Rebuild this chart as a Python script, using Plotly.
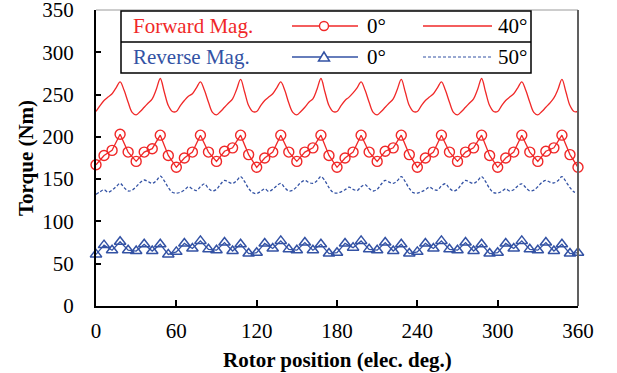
import plotly.graph_objects as go

# ---------------- data ----------------
pos6 = list(range(0, 361, 6))      # rotor position for marker series (deg)
pos3 = list(range(0, 361, 3))      # rotor position for line series (deg)

fwd_0 = [167, 178, 184, 203, 182, 171, 182, 186, 202, 178,
         164, 175, 182, 202, 182, 171, 183, 187, 202, 179,
         164, 175, 182, 202, 182, 171, 182, 187, 202, 178,
         164, 175, 182, 202, 182, 171, 183, 187, 202, 179,
         164, 175, 182, 202, 182, 171, 182, 187, 202, 178,
         164, 175, 182, 202, 182, 171, 183, 187, 202, 179,
         164]

rev_0 = [61, 72, 66, 76, 66, 65, 73, 65, 73, 61,
         64, 74, 68, 77, 67, 66, 75, 65, 73, 62,
         63, 74, 68, 77, 67, 66, 75, 66, 73, 62,
         63, 74, 69, 77, 67, 66, 75, 65, 73, 62,
         64, 74, 68, 77, 67, 66, 75, 65, 73, 62,
         63, 74, 68, 77, 67, 66, 75, 65, 73, 62,
         63]

fwd_40 = [230, 237, 243, 247, 251, 258, 265, 255, 241, 229,
          226, 230, 235, 240, 245, 256, 269, 253, 237, 230,
          230, 237, 243, 248, 251, 258, 265, 255, 241, 229,
          226, 230, 235, 240, 245, 256, 268, 253, 237, 230,
          230, 237, 243, 247, 251, 258, 265, 255, 240, 229,
          226, 230, 235, 241, 245, 256, 269, 253, 237, 230,
          230, 237, 243, 247, 252, 258, 265, 255, 241, 229,
          226, 230, 235, 240, 245, 256, 268, 253, 237, 230,
          230, 237, 243, 247, 251, 258, 265, 255, 241, 229,
          226, 230, 235, 240, 245, 256, 269, 253, 237, 230,
          230, 237, 243, 247, 251, 258, 265, 255, 241, 229,
          226, 230, 235, 240, 246, 256, 268, 253, 237, 230,
          230]

rev_50 = [132, 135, 137.5, 134.5, 137, 141, 145, 140, 136, 137,
          141, 146, 149, 147, 145, 148, 153.5, 148, 140, 134.5,
          133.5, 134.5, 137, 141, 138.5, 136.5, 141, 144.5, 139, 136,
          138, 144, 148.5, 146.5, 145, 148, 153, 147, 139, 134,
          133, 135.5, 138.5, 135.5, 138, 142, 145, 140, 136, 137,
          141, 146, 148.5, 146, 145, 148, 153, 148, 140, 134.5,
          133.5, 135, 137.5, 140.5, 138, 136.5, 141, 143.5, 139, 136,
          138, 144, 148.5, 146.5, 145, 148, 153, 147, 139, 134,
          133.5, 135, 137.5, 140.5, 138, 137, 142, 144.5, 139, 136,
          138, 144, 148.5, 146.5, 145, 148, 153, 147, 139, 134,
          133.5, 135.5, 138.5, 136, 137.5, 142, 144.5, 140, 136, 137,
          141, 146, 148.5, 146.5, 145.5, 148, 153, 147, 140, 135,
          133.5]

x_ticks = [0, 60, 120, 180, 240, 300, 360]
y_ticks = [0, 50, 100, 150, 200, 250, 300, 350]

# ---------------- style ----------------
RED = "#F02828"
BLUE = "#3352A4"
FONT = "Liberation Serif, Times New Roman, Times, serif"
W, H = 617, 373
L, R, T, B = 96, 39, 10, 67
PW, PH = W - L - R, H - T - B


def fx(p):
    return (p - L) / PW


def fy(p):
    return (H - B - p) / PH


fig = go.Figure()
fig.add_trace(go.Scatter(x=pos3, y=fwd_40, mode="lines", line=dict(color=RED, width=1.3, shape="spline"),
                         cliponaxis=False, showlegend=False))
fig.add_trace(go.Scatter(x=pos3, y=rev_50, mode="lines",
                         line=dict(color=BLUE, width=1.3, dash="3px,2px", shape="spline"),
                         cliponaxis=False, showlegend=False))
fig.add_trace(go.Scatter(x=pos6, y=fwd_0, mode="lines+markers", line=dict(color=RED, width=1.3),
                         marker=dict(symbol="circle-open", size=10, color=RED, line=dict(width=1.4, color=RED)),
                         cliponaxis=False, showlegend=False))
fig.add_trace(go.Scatter(x=pos6, y=rev_0, mode="lines+markers", line=dict(color=BLUE, width=1.3),
                         marker=dict(symbol="triangle-up-open", size=10, color=BLUE, line=dict(width=1.5, color=BLUE)),
                         cliponaxis=False, showlegend=False))

shapes = []
# gray frame top & right
shapes.append(dict(type="line", xref="paper", yref="paper", x0=0, x1=1, y0=1, y1=1,
                   line=dict(color="#9a9a9a", width=1)))
shapes.append(dict(type="line", xref="paper", yref="paper", x0=1, x1=1, y0=0, y1=1,
                   line=dict(color="#606060", width=2)))
# legend box
shapes.append(dict(type="rect", xref="paper", yref="paper", x0=fx(121), x1=fx(531), y0=fy(73), y1=fy(11),
                   line=dict(color="black", width=1.5), fillcolor="white", layer="above"))
shapes.append(dict(type="line", xref="paper", yref="paper", x0=fx(121), x1=fx(531), y0=fy(42), y1=fy(42),
                   line=dict(color="black", width=1.5)))
r1, r2 = 26, 57
shapes.append(dict(type="line", xref="paper", yref="paper", x0=fx(292), x1=fx(358), y0=fy(r1), y1=fy(r1),
                   line=dict(color=RED, width=1.3)))
shapes.append(dict(type="circle", xref="paper", yref="paper", x0=fx(319.5), x1=fx(328.5), y0=fy(r1 + 4.5),
                   y1=fy(r1 - 4.5), line=dict(color=RED, width=1.4), fillcolor="white"))
shapes.append(dict(type="line", xref="paper", yref="paper", x0=fx(423), x1=fx(492), y0=fy(r1), y1=fy(r1),
                   line=dict(color=RED, width=1.3)))
shapes.append(dict(type="line", xref="paper", yref="paper", x0=fx(292), x1=fx(358), y0=fy(r2), y1=fy(r2),
                   line=dict(color=BLUE, width=1.3)))
tri = "M {:.5f},{:.5f} L {:.5f},{:.5f} L {:.5f},{:.5f} Z".format(
    fx(324), fy(r2 - 5), fx(318.5), fy(r2 + 4), fx(329.5), fy(r2 + 4))
shapes.append(dict(type="path", xref="paper", yref="paper", path=tri,
                   line=dict(color=BLUE, width=1.5), fillcolor="white"))
shapes.append(dict(type="line", xref="paper", yref="paper", x0=fx(423), x1=fx(492), y0=fy(r2), y1=fy(r2),
                   line=dict(color=BLUE, width=1.2, dash="3px,2px")))

ann = []


def txt(x, y, s, color="black", size=21, **kw):
    d = dict(xref="paper", yref="paper", x=fx(x), y=fy(y), text=s, showarrow=False,
             xanchor="left", yanchor="middle", font=dict(family=FONT, size=size, color=color))
    d.update(kw)
    ann.append(d)


txt(131, r1, "Forward Mag.", RED)
txt(365, r1, "0°")
txt(496, r1, "40°")
txt(131, r2, "Reverse Mag.", BLUE)
txt(365, r2, "0°")
txt(496, r2, "50°")
# axis titles
txt(337, 360, "<b>Rotor position (elec. deg.)</b>", xanchor="center")
txt(26, 158, "<b>Torque (Nm)</b>", xanchor="center", textangle=-90)

fig.update_layout(
    width=W, height=H,
    margin=dict(l=L, r=R, t=T, b=B, autoexpand=False),
    paper_bgcolor="white", plot_bgcolor="white",
    font=dict(family=FONT, size=21, color="black"),
    shapes=shapes, annotations=ann,
    xaxis=dict(range=[0, 360], tickvals=x_ticks, ticks="inside", ticklen=6, tickwidth=1.5, tickcolor="black",
               showline=True, linecolor="black", linewidth=2, showgrid=False, zeroline=False,
               ticklabelstandoff=5, ticklabeloverflow="allow",
               tickfont=dict(family=FONT, size=21, color="black")),
    yaxis=dict(range=[0, 350], tickvals=y_ticks, ticks="inside", ticklen=5, tickwidth=1.5, tickcolor="black",
               showline=True, linecolor="black", linewidth=2, showgrid=False, zeroline=False,
               ticklabelstandoff=16, ticklabeloverflow="allow",
               tickfont=dict(family=FONT, size=21, color="black")),
)

fig.write_html("out.html")
